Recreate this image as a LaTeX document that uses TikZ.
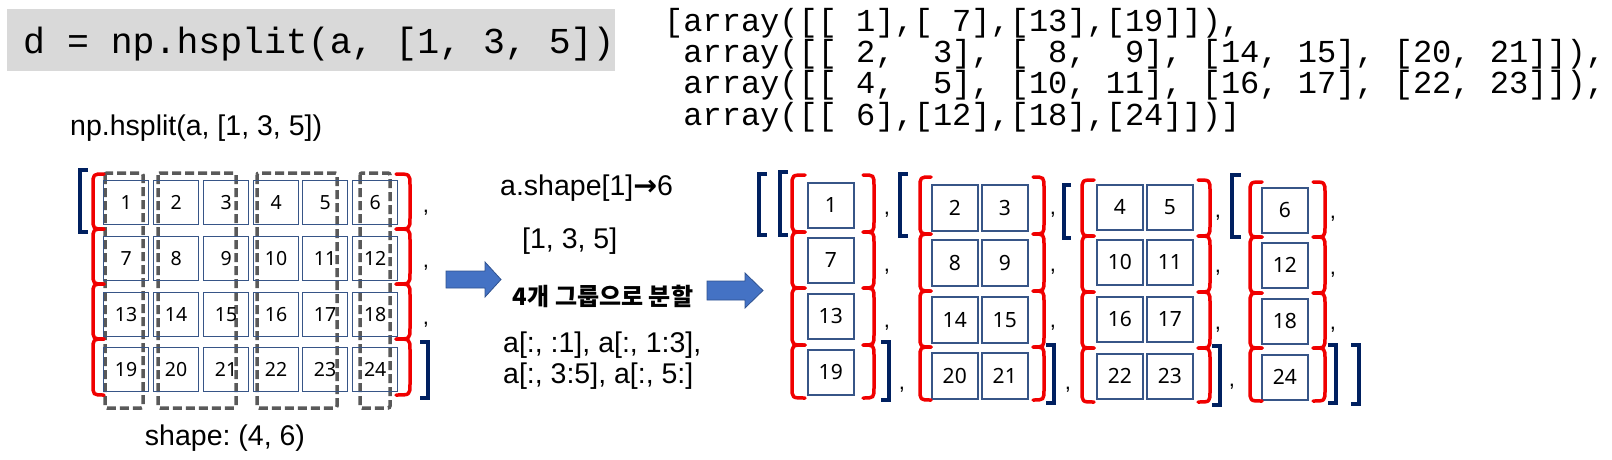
\documentclass[tikz,border=0pt]{standalone}
\usepackage{fontspec}
\setmainfont{Liberation Sans}
\newfontfamily\monof{Liberation Mono}
\newfontfamily\numf{Noto Sans}
\newfontfamily\krf{Noto Sans CJK KR}
\newfontfamily\djf{DejaVu Sans}
\frenchspacing
\definecolor{boxc}{RGB}{55,85,135}
\definecolor{bred}{RGB}{240,0,0}
\definecolor{navyc}{RGB}{0,32,96}
\definecolor{dgray}{RGB}{89,89,89}
\definecolor{arrf}{RGB}{68,114,196}
\definecolor{arrd}{RGB}{47,82,143}
\definecolor{codebg}{RGB}{217,217,217}
\tikzset{
  lcell/.style={draw=boxc, line width=1.3pt, minimum width=45pt, minimum height=44pt, inner sep=0pt, anchor=north west, font=\numf\fontsize{19.5}{19.5}\selectfont},
  rcell/.style={draw=boxc, line width=1.5pt, minimum width=46pt, minimum height=45pt, inner sep=0pt, anchor=north west, font=\numf\fontsize{21}{21}\selectfont},
  redbrace/.style={draw=bred, line width=3.5pt, line cap=round, line join=round},
  navyb/.style={draw=navyc, line width=4pt, line join=miter},
  grp/.style={draw=dgray, line width=3.5pt, dash pattern=on 9pt off 4pt, rounded corners=2pt},
  commanode/.style={inner sep=0pt, anchor=center, font=\fontsize{22}{22}\selectfont},
  lbl/.style={inner sep=0pt, font=\fontsize{28.5}{30}\selectfont},
  codetext/.style={inner sep=0pt, anchor=base west, font=\monof\fontsize{32}{32}\selectfont},
  barrow/.style={fill=arrf, draw=arrd, line width=0.8pt}
}
\newcommand\bracecol[3]{%
  \foreach \ta/\tb in {#3} {\draw[redbrace] (#2,\ta) .. controls (#1,\ta) .. (#1,\ta+11) -- (#1,\tb-11) .. controls (#1,\tb) .. (#2,\tb);}}
\newcommand\lbrk[4]{\draw[navyb] (#2,#3+2) -- (#1+2,#3+2) -- (#1+2,#4-2) -- (#2,#4-2);}
\newcommand\rbrk[4]{\draw[navyb] (#1,#3+2) -- (#2-2,#3+2) -- (#2-2,#4-2) -- (#1,#4-2);}
\begin{document}
\begin{tikzpicture}[x=1pt,y=-1pt]
\useasboundingbox (0,0) rectangle (1612,459);
% code box top left
\fill[codebg] (7,9) rectangle (615,71);
\node[codetext, font=\monof\fontsize{36.5}{36.5}\selectfont] (cmd) at (23,53) {d = np.hsplit(a, [1, 3, 5])};
% output code
\node[codetext] (o1) at (664,31) {[array([[ 1],[ 7],[13],[19]]),};
\node[codetext] (o2) at (664,62) {\ array([[ 2,\ \ 3], [ 8,\ \ 9], [14, 15], [20, 21]]),};
\node[codetext] (o3) at (664,93) {\ array([[ 4,\ \ 5], [10, 11], [16, 17], [22, 23]]),};
\node[codetext] (o4) at (664,125) {\ array([[ 6],[12],[18],[24]])]};
% left title
\node[lbl, anchor=base west] (t1) at (70,135) {np.hsplit(a, [1, 3, 5])};
\node[lbl, anchor=base] (t2) at (225,445) {shape: (4, 6)};
% dashed groups
\draw[grp] (105,173) rectangle (143,408);
\draw[grp] (158,173) rectangle (236,408);
\draw[grp] (257,173) rectangle (337,408);
\draw[grp] (360,173) rectangle (390,408);
% left grid
\foreach \r/\y in {0/180,1/236,2/292,3/347}
  \foreach \c/\x in {0/103,1/153,2/203,3/253,4/302,5/352} {
    \pgfmathtruncatemacro\n{\r*6+\c+1}
    \node[lcell] (L\n) at (\x,\y) {\n};
  }
\bracecol{93}{104}{174/229,229/284,284/339,339/395}
\bracecol{410}{396}{174/229,229/284,284/339,339/395}
\lbrk{78}{88}{168}{234}
\rbrk{420}{430}{340}{400}
\node[commanode] (lc1) at (426,213) {,};
\node[commanode] (lc2) at (426,268) {,};
\node[commanode] (lc3) at (426,325) {,};
% middle
\node[lbl, anchor=base west] (m1) at (500,195) {a.shape[1]{\djf\bfseries →}6};
\node[lbl, anchor=base west] (m2) at (522,248) {[1, 3, 5]};
\node[inner sep=0pt, font=\krf\bfseries\fontsize{24}{24}\selectfont] (m3) at (603,296) {4개 그룹으로 분할};
\node[lbl, anchor=base west] (m4) at (503,352) {a[:, :1], a[:, 1:3],};
\node[lbl, anchor=base west] (m5) at (503,383) {a[:, 3:5], a[:, 5:]};
\draw[barrow] (446,271) -- (485,271) -- (485,262) -- (501,279.5) -- (485,297) -- (485,288) -- (446,288) -- cycle;
\draw[barrow] (707,281) -- (745,281) -- (745,273) -- (763,290.5) -- (745,308) -- (745,300) -- (707,300) -- cycle;
% right group 1
\foreach \r/\y in {0/182,1/237,2/293,3/349} {
  \pgfmathtruncatemacro\n{\r*6+1}
  \node[rcell] (R\n) at (807,\y) {\n};
}
\bracecol{792}{805}{175/232,232/288,288/345,345/398}
\bracecol{874}{863}{175/232,232/288,288/345,345/398}
\lbrk{757}{767}{172}{237}
\lbrk{778}{788}{170}{237}
\rbrk{881}{891}{340}{402}
\foreach \yy [count=\i] in {215,272,328} {\node[commanode] (g1c\i) at (887,\yy) {,};}
\node[commanode] (g1e) at (902,390) {,};
% right group 2
\foreach \r/\y in {0/184,1/239,2/296,3/352} {
  \pgfmathtruncatemacro\n{\r*6+2}
  \pgfmathtruncatemacro\m{\r*6+3}
  \node[rcell, minimum height=46pt] (R\n) at (931,\y) {\n};
  \node[rcell, minimum height=46pt] (R\m) at (981,\y) {\m};
}
\bracecol{920}{931}{177/234,234/291,291/347,347/400}
\bracecol{1044}{1033}{177/234,234/291,291/347,347/400}
\lbrk{898}{908}{172}{238}
\rbrk{1046}{1056}{343}{405}
\foreach \yy [count=\i] in {215,272,328} {\node[commanode] (g2c\i) at (1053,\yy) {,};}
\node[commanode] (g2e) at (1068,390) {,};
% right group 3
\foreach \r/\y in {0/184,1/239,2/296,3/353} {
  \pgfmathtruncatemacro\n{\r*6+4}
  \pgfmathtruncatemacro\m{\r*6+5}
  \node[rcell] (R\n) at (1096,\y) {\n};
  \node[rcell] (R\m) at (1146,\y) {\m};
}
\bracecol{1082}{1094}{180/236,236/292,292/348,348/402}
\bracecol{1210}{1198}{180/236,236/292,292/348,348/402}
\lbrk{1062}{1071}{183}{240}
\rbrk{1212}{1222}{344}{407}
\foreach \yy [count=\i] in {218,273,330} {\node[commanode] (g3c\i) at (1218,\yy) {,};}
\node[commanode] (g3e) at (1232,387) {,};
% right group 4
\foreach \r/\y in {0/187,1/242,2/298,3/354} {
  \pgfmathtruncatemacro\n{\r*6+6}
  \node[rcell] (R\n) at (1261,\y) {\n};
}
\bracecol{1250}{1262}{182/237,237/293,293/348,348/401}
\bracecol{1325}{1313}{182/237,237/293,293/348,348/401}
\lbrk{1230}{1241}{173}{239}
\rbrk{1328}{1338}{343}{405}
\rbrk{1351}{1361}{343}{406}
\foreach \yy [count=\i] in {219,275,330} {\node[commanode] (g4c\i) at (1333,\yy) {,};}
\end{tikzpicture}
\end{document}
